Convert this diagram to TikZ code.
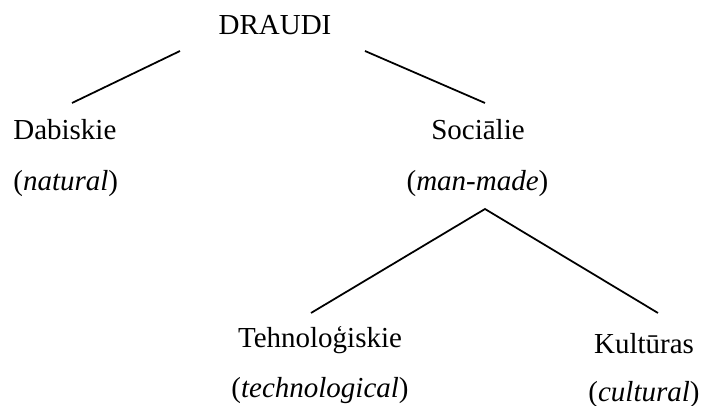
\documentclass[tikz,border=0pt]{standalone}
\usepackage{fontspec}
\setmainfont{Liberation Serif}
\usepackage{tikz}

\begin{document}
\begin{tikzpicture}[lbl/.style={anchor=base, inner sep=0pt, font=\fontsize{16.5}{19}\selectfont}, branch/.style={line width=1pt}]

	\useasboundingbox (0,0) rectangle (14.02,8.12);

	\node[lbl] (draudi) at (5.50,7.42) {DRAUDI};

	\node[lbl,anchor=base west] (dabiskie) at (0.26,5.32) {Dabiskie};
	\node[lbl,anchor=base west] (natural) at (0.26,4.30) {(\textit{natural})};
	\node[lbl] (sociali) at (9.56,5.32) {Sociālie};
	\node[lbl] (manmade) at (9.55,4.30) {(\textit{man-made})};

	\node[lbl] (tehno) at (6.40,1.16) {Tehnoloģiskie};
	\node[lbl] (techno) at (6.40,0.16) {(\textit{technological})};
	\node[lbl] (kultura) at (12.88,1.04) {Kultūras};
	\node[lbl] (cultural) at (12.88,0.08) {(\textit{cultural})};

	\coordinate (dl) at (3.60,7.10);
	\coordinate (dr) at (7.30,7.10);
	\coordinate (dab) at (1.44,6.06);
	\coordinate (soc) at (9.70,6.06);
	\coordinate (apex) at (9.70,3.94);
	\coordinate (teh) at (6.22,1.86);
	\coordinate (kul) at (13.16,1.86);

	\draw[branch] (dl) -- (dab);
	\draw[branch] (dr) -- (soc);
	\draw[branch] (teh) -- (apex) -- (kul);

\end{tikzpicture}
\end{document}
